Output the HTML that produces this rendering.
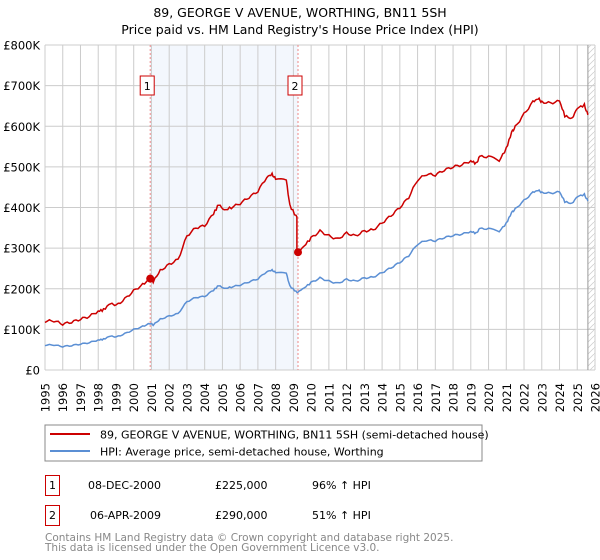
<!DOCTYPE html>
<html><head><meta charset="utf-8"><style>
body{margin:0;background:#fff;font-family:"DejaVu Sans","Liberation Sans",sans-serif;}
svg{display:block}
</style></head><body>
<svg id="s" width="600" height="560" xmlns="http://www.w3.org/2000/svg" font-family="DejaVu Sans, Liberation Sans, sans-serif">
<text x="300" y="17" font-size="12.5" text-anchor="middle">89, GEORGE V AVENUE, WORTHING, BN11 5SH</text>
<text x="300" y="34" font-size="12.5" text-anchor="middle">Price paid vs. HM Land Registry's House Price Index (HPI)</text>
<g id="g"></g>
<rect x="45" y="425" width="437" height="36" fill="none" stroke="#888" stroke-width="1"/>
<line x1="50" y1="434" x2="90" y2="434" stroke="#cc0000" stroke-width="2"/>
<line x1="50" y1="451" x2="90" y2="451" stroke="#5b8fd4" stroke-width="2"/>
<text x="100" y="438.5" font-size="11">89, GEORGE V AVENUE, WORTHING, BN11 5SH (semi-detached house)</text>
<text x="100" y="455.5" font-size="11">HPI: Average price, semi-detached house, Worthing</text>
<rect x="45.5" y="475.5" width="14" height="20" fill="none" stroke="#cc0000"/>
<text x="52.5" y="489" font-size="11" text-anchor="middle">1</text>
<text x="88" y="489" font-size="11">08-DEC-2000</text>
<text x="215" y="489" font-size="11">£225,000</text>
<text x="312" y="489" font-size="11">96% ↑ HPI</text>
<rect x="45.5" y="505.5" width="14" height="20" fill="none" stroke="#cc0000"/>
<text x="52.5" y="519" font-size="11" text-anchor="middle">2</text>
<text x="90" y="519" font-size="11">06-APR-2009</text>
<text x="215" y="519" font-size="11">£290,000</text>
<text x="312" y="519" font-size="11">51% ↑ HPI</text>
<text x="45" y="541" font-size="10.5" fill="#888">Contains HM Land Registry data © Crown copyright and database right 2025.</text>
<text x="45" y="551" font-size="10.5" fill="#888">This data is licensed under the Open Government Licence v3.0.</text>
</svg>
<script>
var g=document.getElementById('g');
function X(y){return 45+(y-1995)*17.742}
function Y(v){return 370-v*0.40625}
var h='';
h+='<rect x="'+X(2000.93)+'" y="45" width="'+(X(2009.26)-X(2000.93))+'" height="325" fill="#eef3fc" opacity="0.7"/>';
h+='<defs><pattern id="p" width="6" height="6" patternUnits="userSpaceOnUse"><path d="M0 6L6 0" stroke="#ccc" stroke-width="0.7"/></pattern></defs>';
h+='<rect x="'+X(2025.6)+'" y="45" width="'+(595-X(2025.6))+'" height="325" fill="url(#p)"/>';
for(var y=1995;y<=2026;y++){var x=X(y);h+='<line x1="'+x+'" y1="45" x2="'+x+'" y2="370" stroke="#ccc" stroke-width="1"/>';
h+='<text transform="translate('+(x+4.5)+',383) rotate(-90)" font-size="11.5" text-anchor="end">'+y+'</text>';}
for(var k=0;k<=8;k++){var yy=Y(k*100);h+='<line x1="45" y1="'+yy+'" x2="595" y2="'+yy+'" stroke="#ccc" stroke-width="1"/>';
h+='<text x="40" y="'+(yy+4.5)+'" font-size="11.5" text-anchor="end">'+(k?'£'+k*100+'K':'£0')+'</text>';}
h+='<line x1="'+X(2025.6)+'" y1="45" x2="'+X(2025.6)+'" y2="370" stroke="#999" stroke-width="1"/>';
var R=[[1995,120],[1995.5,121],[1996,113],[1996.5,118],[1997,125],[1997.5,132],[1998,145],[1998.3,148],[1998.7,165],[1999,158],[1999.5,175],[2000,195],[2000.5,210],[2000.93,225],[2001.1,218],[2001.5,245],[2002,260],[2002.5,272],[2003,330],[2003.5,350],[2004,355],[2004.5,385],[2004.8,408],[2005.1,393],[2005.5,400],[2006,410],[2006.5,425],[2007,440],[2007.5,475],[2007.8,482],[2008,470],[2008.6,466],[2008.8,405],[2009.15,378],[2009.2,378],[2009.2,290],[2009.26,290],[2009.6,305],[2010,325],[2010.5,342],[2011,330],[2011.5,322],[2012,337],[2012.5,330],[2013,342],[2013.5,345],[2014,362],[2014.5,380],[2015,400],[2015.5,425],[2016,468],[2016.5,482],[2017,480],[2017.5,492],[2018,500],[2018.5,505],[2019,515],[2019.3,508],[2019.5,525],[2020,525],[2020.6,515],[2021,545],[2021.3,585],[2021.5,598],[2022,630],[2022.5,660],[2022.8,668],[2023,660],[2023.5,657],[2024,662],[2024.3,626],[2024.7,618],[2025,645],[2025.4,652],[2025.6,628]];
var JUMP=34;
function path(isBlue){var d='';function f(v,i){return isBlue?(i<=JUMP?v/1.96:v/1.51):v}
for(var i=0;i<R.length-1;i++){var a=R[i],b=R[i+1];
 if(a[0]==b[0]){d+=(d?'L':'M')+X(a[0]).toFixed(1)+' '+Y(f(a[1],i)).toFixed(1);if(isBlue)d+='M'+X(b[0]).toFixed(1)+' '+Y(f(b[1],i+1)).toFixed(1);continue;}
 for(var j=0;j<4;j++){var t=j/4,yr=a[0]+(b[0]-a[0])*t,v=a[1]+(b[1]-a[1])*t;v+=Math.sin(yr*37.1)*3;d+=(d?'L':'M')+X(yr).toFixed(1)+' '+Y(f(v,i)).toFixed(1);}}
var l=R[R.length-1];d+='L'+X(l[0])+' '+Y(f(l[1],R.length-1));return d;}
h+='<path d="'+path(true)+'" fill="none" stroke="#5b8fd4" stroke-width="1.5"/>';
h+='<path d="'+path(false)+'" fill="none" stroke="#cc0000" stroke-width="1.5"/>';
[[2000.93,225,1],[2009.26,290,2]].forEach(function(m){var x=X(m[0]);
h+='<line x1="'+x+'" y1="45" x2="'+x+'" y2="370" stroke="#e88" stroke-width="1" stroke-dasharray="2,2"/>';
h+='<circle cx="'+x+'" cy="'+Y(m[1])+'" r="4" fill="#cc0000"/>';
h+='<rect x="'+(x-10)+'" y="76" width="14" height="19" fill="#fff" stroke="#cc0000"/>';
h+='<text x="'+(x-3)+'" y="90" font-size="11" text-anchor="middle">'+m[2]+'</text>';});
g.innerHTML=h;
</script>
</body></html>
